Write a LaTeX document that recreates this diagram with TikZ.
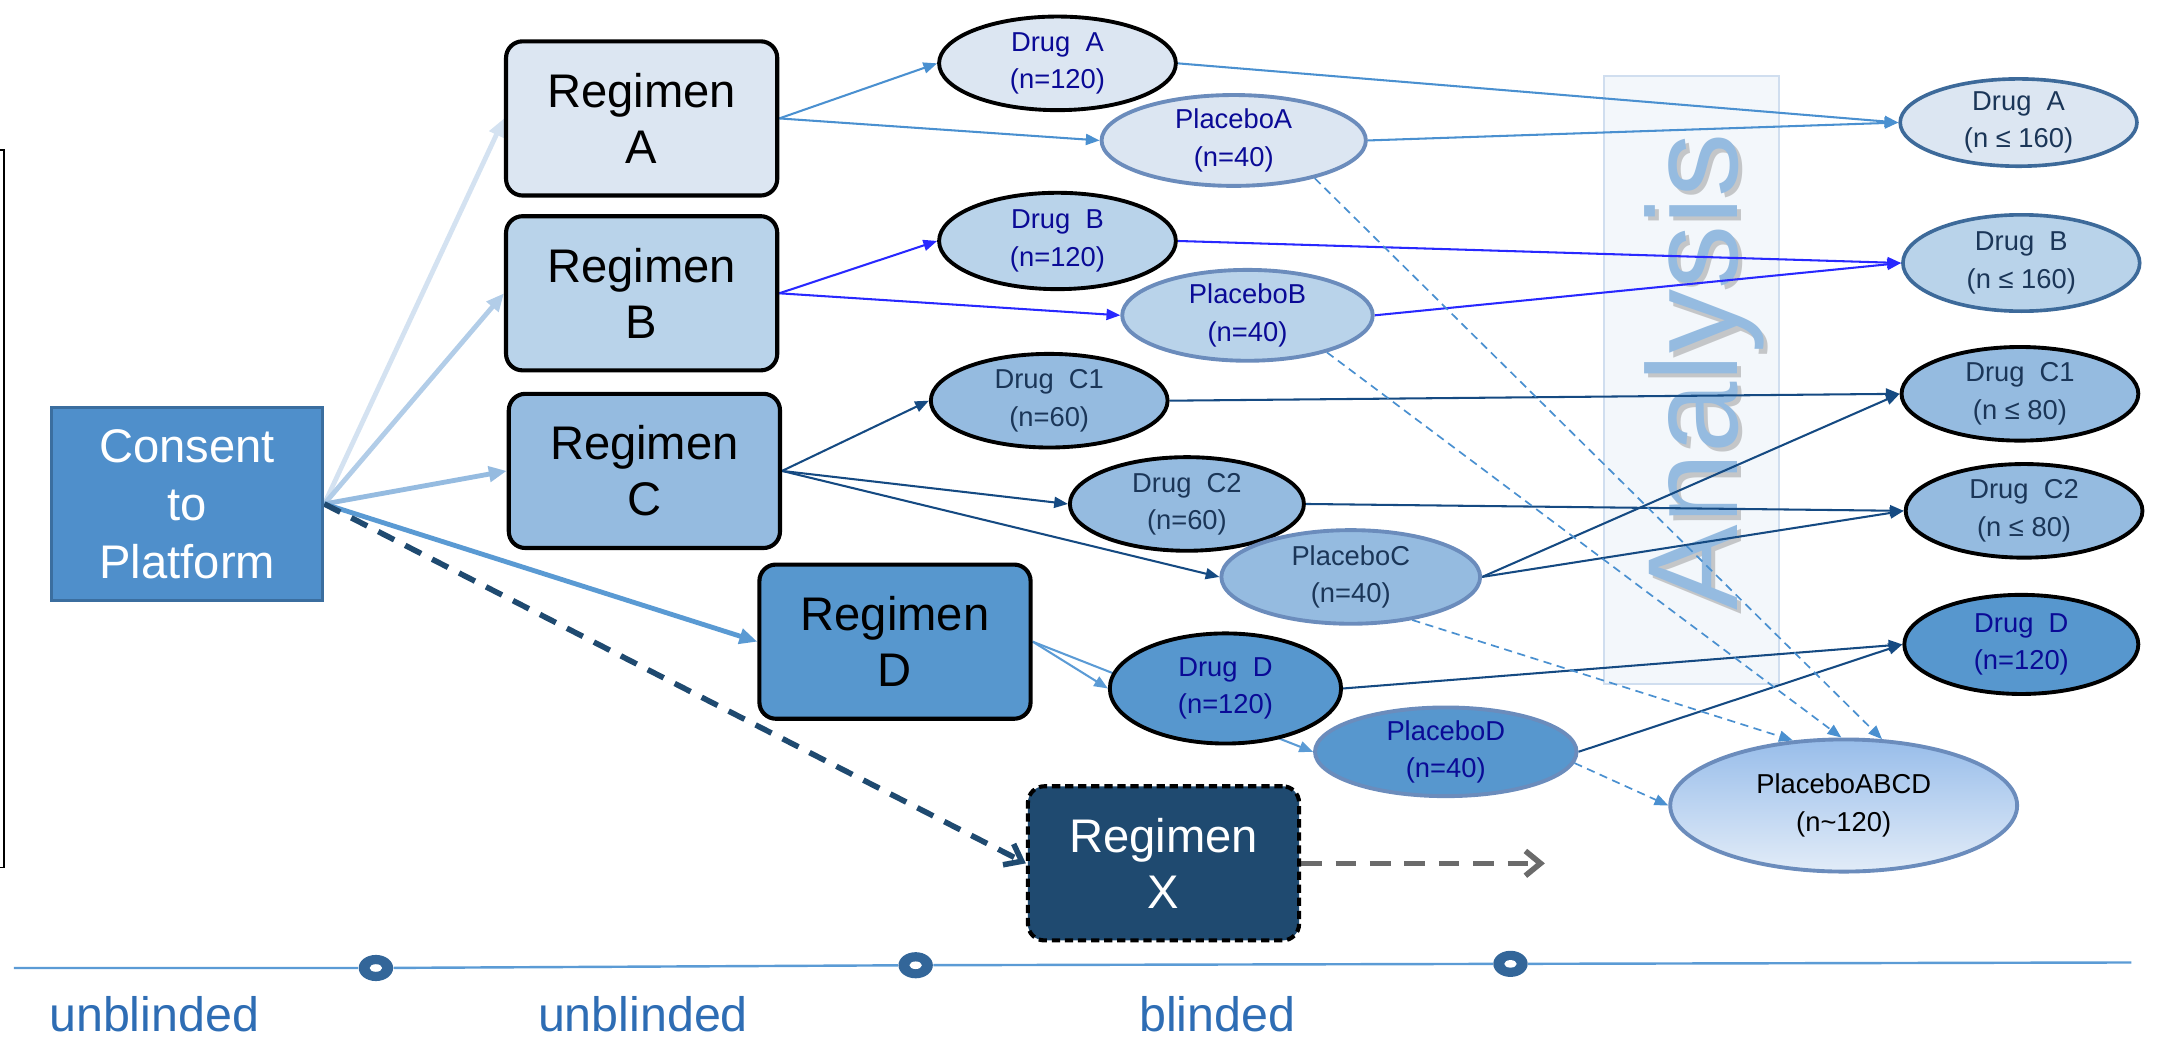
\documentclass[tikz,border=0pt]{standalone}
\usepackage{fontspec}
\setmainfont{Liberation Sans}
\usepackage{tikz}
\usetikzlibrary{shapes.geometric, arrows.meta, backgrounds}

\definecolor{fillA}{HTML}{DCE6F2}
\definecolor{fillB}{HTML}{B9D3EA}
\definecolor{fillC}{HTML}{95BBE0}
\definecolor{fillD}{HTML}{5797CE}
\definecolor{fillX}{HTML}{1F4A70}
\definecolor{consentfill}{HTML}{4F8FCB}
\definecolor{consentline}{HTML}{3B6E9F}
\definecolor{plborder}{HTML}{6B8CBC}
\definecolor{finborder}{HTML}{3D6A9A}
\definecolor{navytxt}{HTML}{0A0A96}
\definecolor{slatetxt}{HTML}{1B3658}
\definecolor{lineA}{HTML}{4A90D0}
\definecolor{lineB}{HTML}{2828FF}
\definecolor{lineC}{HTML}{154A82}
\definecolor{lineD}{HTML}{5B9BD5}
\definecolor{feedA}{HTML}{D4E2F1}
\definecolor{feedB}{HTML}{B2CDE8}
\definecolor{feedC}{HTML}{95BBE0}
\definecolor{feedD}{HTML}{5A9AD3}
\definecolor{grayarrow}{HTML}{6B6B6B}
\definecolor{anafill}{HTML}{F3F7FB}
\definecolor{analine}{HTML}{D0DEEF}
\definecolor{markcol}{HTML}{336699}
\definecolor{phasetxt}{HTML}{2E6DB4}
\definecolor{abcdtop}{HTML}{98BDEA}
\definecolor{abcdbot}{HTML}{E2ECF8}

\pgfdeclarelayer{edges}
\pgfsetlayers{background,edges,main}

\tikzset{
  regbox/.style = {rectangle, rounded corners=0.24cm, draw=black, line width=1.7pt,
    minimum width=3.94cm, minimum height=2.24cm, align=center,
    font=\fontsize{19.5}{23}\selectfont},
  drug/.style = {ellipse, draw=black, line width=1.6pt, inner sep=0pt,
    minimum width=3.44cm, minimum height=1.36cm, align=center,
    font=\fontsize{11.3}{15.4}\selectfont, text=navytxt},
  placebo/.style = {drug, draw=plborder},
  final/.style = {drug, draw=finborder, line width=1.5pt, text=slatetxt},
  arm/.style = {-{Triangle[length=0.2cm,width=0.16cm]}, line width=0.85pt},
  pool/.style = {arm, draw=lineA, line width=0.7pt, dash pattern=on 0.12cm off 0.08cm},
  feed/.style = {-{Triangle[length=0.26cm,width=0.22cm]}, line width=2pt},
  timemark/.style = {ellipse, fill=markcol, minimum width=0.5cm, minimum height=0.38cm, inner sep=0pt},
  phase/.style = {anchor=base, inner sep=0pt, text=phasetxt, font=\fontsize{20}{24}\selectfont}
}

\begin{document}
\begin{tikzpicture}[x=0.02cm, y=-0.02cm]
    \useasboundingbox (0,0) rectangle (1568,755);

    % analysis band
    \begin{pgfonlayer}{background}
        \fill[anafill, draw=analine, line width=0.8pt] (1165,55) rectangle (1292,497);
        \node[rotate=90, text=black!45, opacity=0.45, font=\fontsize{53}{60}\selectfont] (anashadow) at (1241,273) {Analysis};
        \node[rotate=90, text=fillC, font=\fontsize{53}{60}\selectfont] (ana) at (1238,270) {Analysis};
    \end{pgfonlayer}

    % frame edge on the left
    \draw[line width=0.8pt] (0,109) -- (3,109) -- (3,630) -- (0,630);

    \node[rectangle, fill=consentfill, draw=consentline, line width=1.2pt, minimum width=3.94cm,
          minimum height=2.8cm, align=center, text=white,
          font=\fontsize{19.5}{24}\selectfont] (consent) at (136,366) {Consent\\to\\Platform};

    \node[regbox, fill=fillA] (regA) at (466,86)  {Regimen\\A};
    \node[regbox, fill=fillB] (regB) at (466,213) {Regimen\\B};
    \node[regbox, fill=fillC] (regC) at (468,342) {Regimen\\C};
    \node[regbox, fill=fillD] (regD) at (650,466) {Regimen\\D};
    \node[regbox, fill=fillX, text=white, dash pattern=on 0.12cm off 0.07cm] (regX) at (845,627) {Regimen\\X};

    \node[drug, fill=fillA] (drugA) at (768,46) {Drug~~A\\(n=120)};
    \node[placebo, fill=fillA, minimum width=3.84cm, minimum height=1.32cm] (plA) at (896,102) {PlaceboA\\(n=40)};
    \node[drug, fill=fillB, minimum height=1.4cm] (drugB) at (768,175) {Drug~~B\\(n=120)};
    \node[placebo, fill=fillB, minimum width=3.64cm, minimum height=1.32cm] (plB) at (906,229) {PlaceboB\\(n=40)};
    \node[drug, fill=fillC, text=slatetxt] (drugC1) at (762,291) {Drug~~C1\\(n=60)};
    \node[drug, fill=fillC, text=slatetxt, minimum width=3.4cm] (drugC2) at (862,366) {Drug~~C2\\(n=60)};
    \node[placebo, fill=fillC, text=slatetxt, minimum width=3.76cm] (plC) at (981,419) {PlaceboC\\(n=40)};
    \node[drug, fill=fillD, minimum width=3.36cm, minimum height=1.6cm] (drugD) at (890,500) {Drug~~D\\(n=120)};
    \node[placebo, fill=fillD, minimum width=3.8cm, minimum height=1.28cm] (plD) at (1050,546) {PlaceboD\\(n=40)};
    \node[placebo, top color=abcdtop, bottom color=abcdbot, text=black,
          minimum width=5.04cm, minimum height=1.92cm] (plABCD) at (1339,585) {PlaceboABCD\\(n\textasciitilde120)};

    \node[final, fill=fillA, minimum height=1.16cm] (finA) at (1466,89) {Drug~~A\\(n ≤ 160)};
    \node[final, fill=fillB, minimum height=1.4cm] (finB) at (1468,191) {Drug~~B\\(n ≤ 160)};
    \node[final, fill=fillC, draw=black, line width=1.6pt] (finC1) at (1467,286) {Drug~~C1\\(n ≤ 80)};
    \node[final, fill=fillC, draw=black, line width=1.6pt] (finC2) at (1470,371) {Drug~~C2\\(n ≤ 80)};
    \node[drug, fill=fillD, minimum width=3.4cm, minimum height=1.44cm] (finD) at (1468,468) {Drug~~D\\(n=120)};

    \coordinate (xnext) at (1122,627);

    \begin{pgfonlayer}{edges}
        \draw[feed, draw=feedA] (consent.east) -- (regA.west);
        \draw[feed, draw=feedB] (consent.east) -- (regB.west);
        \draw[feed, draw=feedC] (consent.east) -- (regC.west);
        \draw[feed, draw=feedD] (consent.east) -- (regD.west);
        \draw[-{Straight Barb[length=0.22cm,width=0.34cm]}, draw=fillX, line width=2.3pt,
              dash pattern=on 0.26cm off 0.18cm] (consent.east) -- (regX.west);
        \draw[-{Straight Barb[length=0.22cm,width=0.36cm]}, draw=grayarrow, line width=2.3pt,
              dash pattern=on 0.3cm off 0.2cm] (regX.east) -- (xnext);

        \draw[arm, draw=lineA] (regA.east) -- (drugA.west);
        \draw[arm, draw=lineA] (regA.east) -- (plA.west);
        \draw[arm, draw=lineB] (regB.east) -- (drugB.west);
        \draw[arm, draw=lineB] (regB.east) -- (plB.west);
        \draw[arm, draw=lineC] (regC.east) -- (drugC1.west);
        \draw[arm, draw=lineC] (regC.east) -- (drugC2.west);
        \draw[arm, draw=lineC] (regC.east) -- (plC.west);
        \draw[arm, draw=lineD] (regD.east) -- (drugD.west);
        \draw[arm, draw=lineD] (regD.east) -- (plD.west);

        \draw[arm, draw=lineA] (drugA.east) -- (finA.west);
        \draw[arm, draw=lineA] (plA.east) -- (finA.west);
        \draw[arm, draw=lineB] (drugB.east) -- (finB.west);
        \draw[arm, draw=lineB] (plB.east) -- (finB.west);
        \draw[arm, draw=lineC] (drugC1.east) -- (finC1.west);
        \draw[arm, draw=lineC] (plC.east) -- (finC1.west);
        \draw[arm, draw=lineC] (drugC2.east) -- (finC2.west);
        \draw[arm, draw=lineC] (plC.east) -- (finC2.west);
        \draw[arm, draw=lineC] (drugD.east) -- (finD.west);
        \draw[arm, draw=lineC] (plD.east) -- (finD.west);

        \draw[pool] (plA.-25) -- (plABCD.60);
        \draw[pool] (plB.-25) -- (plABCD.92);
        \draw[pool] (plC.-35) -- (plABCD.128);
        \draw[pool] (plD.-5) -- (plABCD.west);
    \end{pgfonlayer}

    % time line
    \node[timemark] (t1) at (273,703) {};
    \node[timemark] (t2) at (665,701) {};
    \node[timemark] (t3) at (1097,700) {};
    \foreach \t in {t1,t2,t3}
        \fill[white] (\t) ellipse [x radius=0.09cm, y radius=0.055cm];
    \coordinate (tl) at (10,703);
    \coordinate (tr) at (1548,699);
    \draw[lineD, line width=1pt] (tl) -- (t1) -- (t2) -- (t3) -- (tr);

    \node[phase] (ph1) at (112,749) {unblinded};
    \node[phase] (ph2) at (467,749) {unblinded};
    \node[phase] (ph3) at (884,749) {blinded};
\end{tikzpicture}
\end{document}
